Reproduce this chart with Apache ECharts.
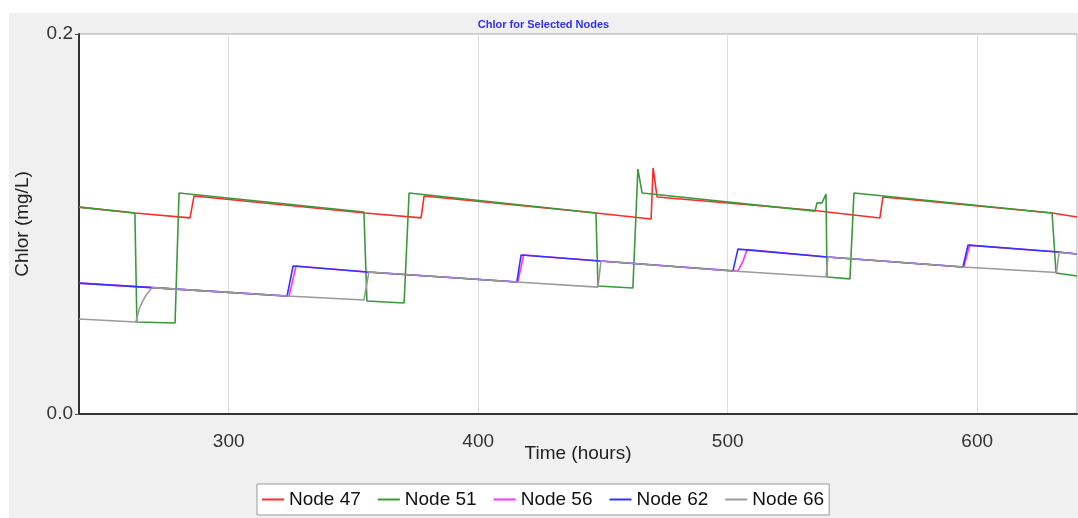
<!DOCTYPE html>
<html>
<head>
<meta charset="utf-8">
<script src="https://cdn.jsdelivr.net/npm/echarts@6/dist/echarts.min.js"></script>
<style>
html,body{margin:0;padding:0;background:#fff;}
#wrap{position:relative;width:1078px;height:518px;background:#fff;}
#chart{position:absolute;left:9px;top:13px;width:1069px;height:505px;background:#f0f0f0;}
</style>
</head>
<body>
<div id="wrap"><div id="chart"></div></div>
<script>
var seriesNames = ['Node 47', 'Node 51', 'Node 56', 'Node 62', 'Node 66'];
var seriesColors = ['#ff2a2a', '#3a9a3a', '#ff33ff', '#3333ff', '#9a9a9a'];

var node47 = [[240,0.1089],[262.4,0.1058],[284.5,0.1032],[286.1,0.1147],[354.6,0.1058],[377.1,0.1032],[378.3,0.1147],[447.2,0.1058],[469.3,0.1026],[470.1,0.1295],[471.7,0.1142],[533.0,0.1074],[561.0,0.1032],[562.2,0.1142],[630.0,0.1058],[640,0.1037]];
var node51 = [[240,0.1089],[262.4,0.1058],[263.2,0.0484],[278.5,0.0479],[280.1,0.1163],[354.2,0.1063],[355.4,0.0595],[370.3,0.0584],[372.3,0.1163],[447.2,0.1058],[448.0,0.0674],[462.0,0.0663],[464.0,0.1289],[465.7,0.1163],[535.0,0.1068],[535.8,0.1111],[537.8,0.1111],[539.4,0.1158],[539.8,0.0721],[549.0,0.0711],[550.6,0.1163],[630.0,0.1058],[631.6,0.0742],[640,0.0726]];
var node56 = [[240,0.0689],[269.3,0.0665],[324.2,0.0620],[327.0,0.0779],[355.4,0.0747],[415.9,0.0695],[418.2,0.0837],[448.8,0.0805],[504.1,0.0753],[506.0,0.0800],[507.8,0.0866],[539.8,0.0826],[594.6,0.0774],[597.0,0.0888],[632.4,0.0853],[640,0.0842]];
var node62 = [[240,0.0689],[269.3,0.0665],[323.4,0.0621],[325.8,0.0779],[355.4,0.0747],[415.5,0.0695],[417.2,0.0837],[448.8,0.0805],[502.1,0.0753],[504.1,0.0868],[539.8,0.0826],[594.3,0.0774],[596.3,0.0889],[632.4,0.0853],[640,0.0842]];
var node66 = [[240,0.0500],[262.8,0.0484],[264.0,0.0547],[265.3,0.0589],[266.9,0.0626],[269.3,0.0665],[323.4,0.0621],[354.2,0.0600],[356.2,0.0747],[415.5,0.0695],[448.0,0.0668],[449.2,0.0805],[502.1,0.0753],[539.4,0.0721],[540.2,0.0826],[594.3,0.0774],[631.8,0.0745],[632.8,0.0850],[640,0.0842]];
var allData = [node47, node51, node56, node62, node66];

var xMin = 240, xMax = 640;
var yMin = 0, yMax = 0.2, yStep = 0.2;

var chart = echarts.init(document.getElementById('chart'));
var FONT = '"Liberation Sans", Arial, sans-serif';

chart.setOption({
  animation: false,
  backgroundColor: '#f0f0f0',
  title: {
    text: 'Chlor for Selected Nodes',
    left: 'center',
    top: 1,
    textStyle: {fontFamily: FONT, fontSize: 11, fontWeight: 'bold', color: '#3030ff'}
  },
  legend: {
    data: seriesNames,
    left: 248,
    top: 471,
    itemWidth: 22,
    itemHeight: 2,
    itemGap: 17,
    icon: 'rect',
    padding: [6, 5, 6, 5],
    backgroundColor: '#ffffff',
    borderColor: '#999999',
    borderWidth: 1,
    textStyle: {fontFamily: FONT, fontSize: 19, color: '#111'}
  },
  grid: {
    left: 70, top: 21, right: 1, bottom: 104,
    containLabel: false,
    outerBoundsMode: 'none',
    show: true, backgroundColor: '#ffffff', borderColor: '#aaaaaa', borderWidth: 1
  },
  xAxis: {
    type: 'value',
    min: xMin, max: xMax,
    splitNumber: 4,
    name: 'Time (hours)',
    nameLocation: 'middle',
    nameGap: 30,
    nameMoveOverlap: false,
    nameTextStyle: {fontFamily: FONT, fontSize: 19, color: '#222'},
    axisLine: {show: true, lineStyle: {color: '#333', width: 2}},
    axisTick: {show: false},
    axisLabel: {fontFamily: FONT, fontSize: 19, color: '#333', margin: 18, showMinLabel: false, showMaxLabel: false},
    splitLine: {show: true, lineStyle: {color: '#dddddd', width: 1}}
  },
  yAxis: {
    type: 'value',
    min: yMin, max: yMax, interval: yStep,
    name: 'Chlor (mg/L)',
    nameLocation: 'middle',
    nameGap: 47,
    nameMoveOverlap: false,
    nameTextStyle: {fontFamily: FONT, fontSize: 19, color: '#222'},
    axisLine: {show: true, lineStyle: {color: '#333', width: 2}},
    axisTick: {show: true, length: 4, lineStyle: {color: '#555'}},
    axisLabel: {fontFamily: FONT, fontSize: 19, color: '#333', margin: 6,
      formatter: function (v) { return v.toFixed(1); }},
    splitLine: {show: false}
  },
  series: seriesNames.map(function (n, i) {
    return {
      name: n,
      type: 'line',
      data: allData[i],
      showSymbol: false,
      symbol: 'none',
      color: seriesColors[i],
      lineStyle: {width: 1.6, color: seriesColors[i]},
      z: 2 + i
    };
  })
});
</script>
</body>
</html>
